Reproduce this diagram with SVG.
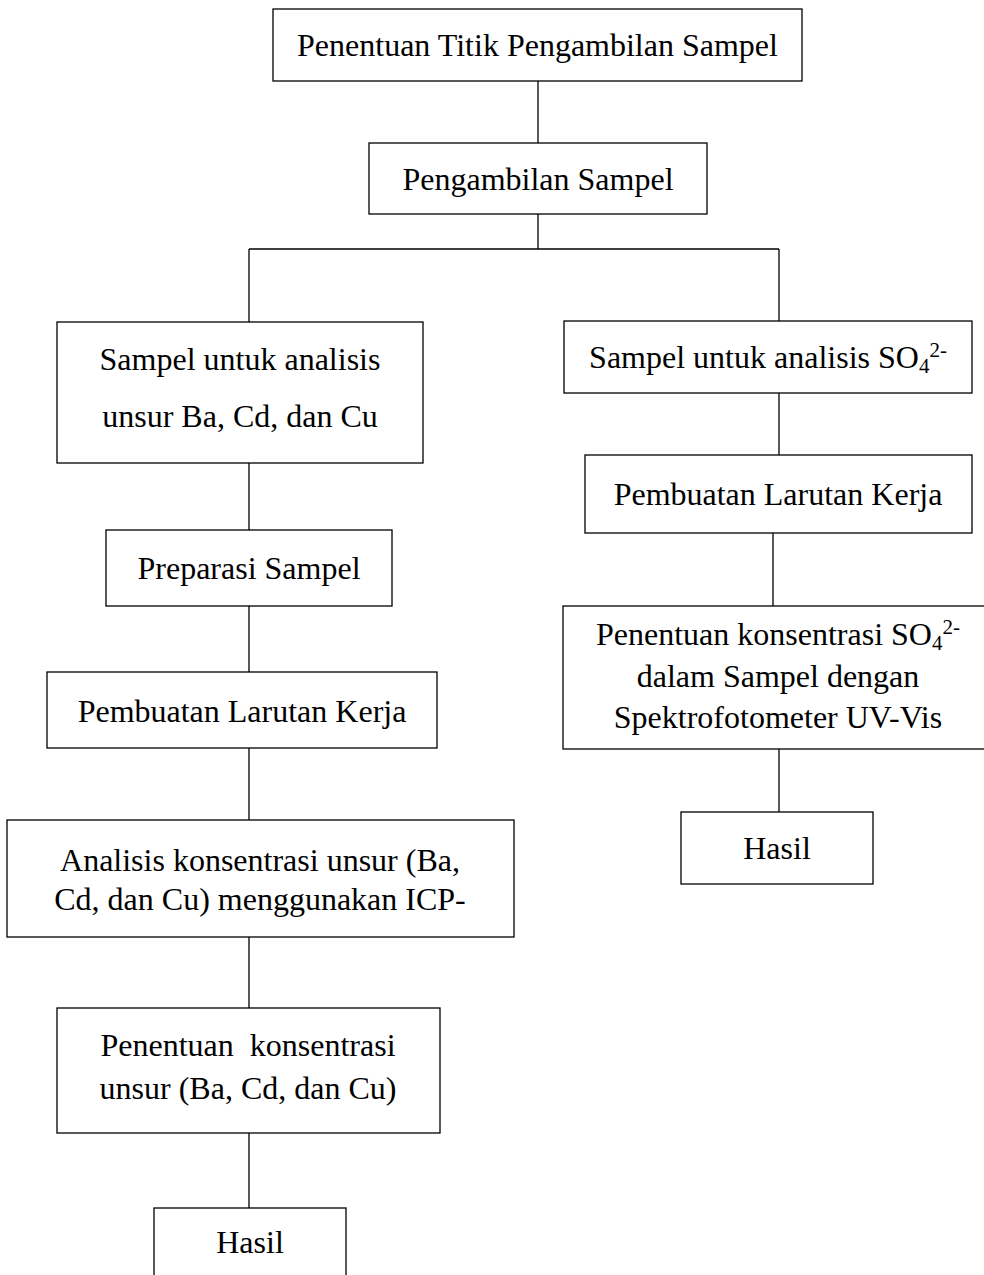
<svg xmlns="http://www.w3.org/2000/svg" width="984" height="1275" viewBox="0 0 984 1275">
<style>
.box{fill:#fff;stroke:#000;stroke-width:1.3}
.t{font-family:"Liberation Serif","Times New Roman",serif;font-size:32px;fill:#000;text-anchor:middle;white-space:pre}
.s{font-size:21px}
.c{stroke:#000;stroke-width:1.3;fill:none}
</style>
<rect width="984" height="1275" fill="#fff"/>
<g id="connectors">
<path class="c" d="M538 81V143M538 214V249M249 249H779M249 249V322M249 463V530M249 606V672M249 748V820M249 937V1008M249 1133V1208M779 249V321M779 393V455M773 533V606M779 749V812"/>
</g>
<g id="n1"><rect class="box" x="273" y="9" width="529" height="72"/><text class="t" x="537.5" y="56">Penentuan Titik Pengambilan Sampel</text></g>
<g id="n2"><rect class="box" x="369" y="143" width="338" height="71"/><text class="t" x="538" y="190">Pengambilan Sampel</text></g>
<g id="n3"><rect class="box" x="57" y="322" width="366" height="141"/><text class="t" x="240" y="370">Sampel untuk analisis</text><text class="t" x="240" y="427">unsur Ba, Cd, dan Cu</text></g>
<g id="n4"><rect class="box" x="106" y="530" width="286" height="76"/><text class="t" x="249" y="579">Preparasi Sampel</text></g>
<g id="n5"><rect class="box" x="47" y="672" width="390" height="76"/><text class="t" x="242" y="722">Pembuatan Larutan Kerja</text></g>
<g id="n6"><rect class="box" x="7" y="820" width="507" height="117"/><text class="t" x="260" y="871">Analisis konsentrasi unsur (Ba,</text><text class="t" x="260" y="910">Cd, dan Cu) menggunakan ICP-</text></g>
<g id="n7"><rect class="box" x="57" y="1008" width="383" height="125"/><text class="t" x="248" y="1056" xml:space="preserve">Penentuan  konsentrasi</text><text class="t" x="248" y="1099">unsur (Ba, Cd, dan Cu)</text></g>
<g id="n8"><rect class="box" x="154" y="1208" width="192" height="90"/><text class="t" x="250" y="1253">Hasil</text></g>
<g id="n9"><rect class="box" x="564" y="321" width="408" height="72"/><text class="t" x="768" y="368">Sampel untuk analisis SO<tspan class="s" dy="5">4</tspan><tspan class="s" dy="-16">2-</tspan></text></g>
<g id="n10"><rect class="box" x="585" y="455" width="387" height="78"/><text class="t" x="778" y="505">Pembuatan Larutan Kerja</text></g>
<g id="n11"><rect class="box" x="563" y="606" width="432" height="143"/><text class="t" x="778" y="645">Penentuan konsentrasi SO<tspan class="s" dy="5">4</tspan><tspan class="s" dy="-16">2-</tspan></text><text class="t" x="778" y="687">dalam Sampel dengan</text><text class="t" x="778" y="728">Spektrofotometer UV-Vis</text></g>
<g id="n12"><rect class="box" x="681" y="812" width="192" height="72"/><text class="t" x="777" y="859">Hasil</text></g>
</svg>
